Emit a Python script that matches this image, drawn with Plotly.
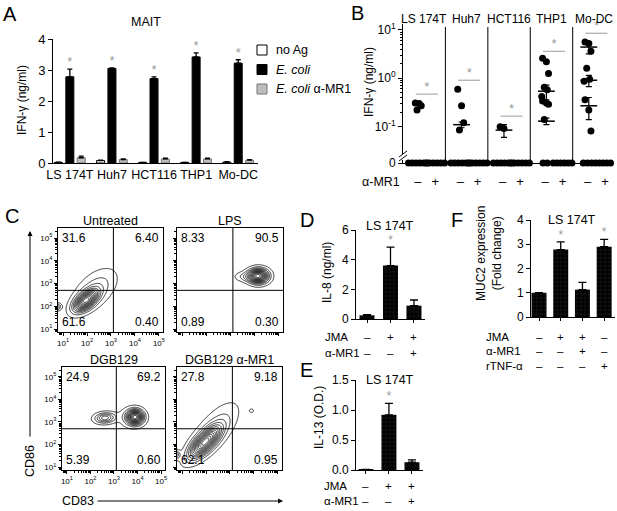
import numpy as np
import plotly.graph_objects as go

W, H = 617, 511
FONT = "Liberation Sans, Arial, Helvetica, sans-serif"
STAR = "#9a9a9a"

### data ###
cells = ["LS 174T", "Huh7", "HCT116", "THP1", "Mo-DC"]

# A - MAIT IFN-g (ng/ml)
a_no_ag = [0.02, 0.08, 0.02, 0.02, 0.03]
a_no_ag_err = [0.01, 0.01, 0.0, 0.0, 0.01]
a_ecoli = [2.78, 3.05, 2.72, 3.42, 3.22]
a_ecoli_err = [0.25, 0.02, 0.06, 0.13, 0.11]
a_ecoli_mr1 = [0.17, 0.11, 0.13, 0.13, 0.09]
a_ecoli_mr1_err = [0.05, 0.02, 0.03, 0.03, 0.02]

# B - IFN-g (ng/ml) without antibody, zeros drawn on the broken axis
b_ls174t = [0.31, 0.30, 0.27, 0.22]
b_huh7 = [0.59, 0.27, 0.12, 0.085]
b_hct116 = [0.10, 0.092]
b_thp1 = [2.6, 2.2, 1.25, 0.65, 0.58, 0.42, 0.34, 0.31, 0.29, 0.14]
b_modc = [5.6, 5.2, 3.6, 1.6, 0.95, 0.87, 0.36, 0.22, 0.081]
b_zeros_minus = [6, 6, 6, 2, 3]
b_zeros_plus = [6, 6, 6, 6, 6]
b_mean_cell = [1, 2, 3, 3, 4, 4, 4]
b_mean = [0.11, 0.085, 0.54, 0.13, 4.4, 0.91, 0.27]
b_sem = [0.015, 0.025, 0.18, 0.02, 1.2, 0.24, 0.13]
b_sig = [0.47, 0.91, 0.165, 3.6, 8.5]

# C - CD83 / CD86 flow plots
c_titles = ["Untreated", "LPS", "DGB129", "DGB129 α-MR1"]
c_quadrants = [  # UL, UR, LL, LR
    ["31.6", "6.40", "61.6", "0.40"],
    ["8.33", "90.5", "0.89", "0.30"],
    ["24.9", "69.2", "5.39", "0.60"],
    ["27.8", "9.18", "62.1", "0.95"],
]
# populations: log10 CD83 centre, log10 CD86 centre, sd x, sd y, corr, weight
c_untreated = [(1.95, 2.25, 0.32, 0.30, 0.55, 1.0),
               (2.35, 2.75, 0.55, 0.55, 0.5, 0.2),
               (0.72, 1.98, 0.12, 0.10, 0.0, 0.35)]
c_lps = [(4.15, 3.33, 0.26, 0.20, 0.0, 1.0),
         (3.65, 3.30, 0.30, 0.14, 0.0, 0.15)]
c_dgb = [(2.62, 3.18, 0.28, 0.15, 0.1, 0.45),
         (3.90, 3.22, 0.22, 0.20, 0.0, 1.0),
         (3.75, 3.20, 0.35, 0.28, 0.0, 0.15)]
c_dgb_mr1 = [(1.95, 2.10, 0.42, 0.45, 0.7, 1.0),
             (2.45, 2.80, 0.60, 0.70, 0.65, 0.15),
             (3.90, 3.50, 0.07, 0.06, 0.0, 0.09),
             (0.72, 1.55, 0.12, 0.12, 0.0, 0.35)]
c_gate_x, c_gate_y = 3.1, 2.7

# D - IL-8 (ng/ml)
d_vals = [0.25, 3.6, 0.9]
d_err = [0.05, 1.25, 0.38]
d_jma = ["–", "+", "+"]
d_mr1 = ["–", "–", "+"]
# E - IL-13 (O.D.)
e_vals = [0.01, 0.92, 0.13]
e_err = [0.0, 0.19, 0.04]
e_jma = ["–", "+", "+"]
e_mr1 = ["–", "–", "+"]
# F - MUC2 (fold change)
f_vals = [1.0, 2.78, 1.13, 2.9]
f_err = [0.0, 0.32, 0.30, 0.30]
f_jma = ["–", "+", "+", "–"]
f_mr1 = ["–", "–", "+", "–"]
f_tnf = ["–", "–", "–", "+"]


def xd(x0, x1):
    return [x0 / W, x1 / W]


def yd(top, bot):
    return [1 - bot / H, 1 - top / H]


def px(x):
    return x / W


def py(y):
    return 1 - y / H


def label(txt, x, y, size=12, xref="paper", xanchor="center", yanchor="middle", angle=0, color="black"):
    return dict(x=x, y=y, xref=xref, yref="paper", text=txt, showarrow=False, textangle=angle,
                xanchor=xanchor, yanchor=yanchor, font=dict(size=size, color=color))


base = dict(showline=True, linecolor="black", linewidth=1, zeroline=False, showgrid=False,
            ticks="outside", ticklen=4, tickcolor="black", tickwidth=1, automargin=False,
            tickfont=dict(size=12, color="black"))

fig = go.Figure()
ann = []
shapes = []

### A ###
idx = list(range(5))
a_series = [
    ("no Ag", a_no_ag, a_no_ag_err, "white", "black", -0.365),
    ("<i>E. coli</i>", a_ecoli, a_ecoli_err, "black", "black", -0.095),
    ("<i>E. coli</i> α-MR1", a_ecoli_mr1, a_ecoli_mr1_err, "#bdbdbd", "#777", 0.175),
]
for k, (name, vals, errs, fill, edge, off) in enumerate(a_series):
    fig.add_trace(go.Bar(x=idx, y=vals, width=0.19, offset=off, name=name, showlegend=False,
                         marker=dict(color=fill, line=dict(color=edge, width=1)),
                         error_y=dict(type="data", array=errs, arrayminus=[0] * 5,
                                      color="black", thickness=1.3, width=2.5),
                         xaxis="x", yaxis="y"))
    # hand-drawn legend entry
    yc = 50 + 19.5 * k
    shapes.append(dict(type="rect", xref="paper", yref="paper", x0=px(257), x1=px(267),
                       y0=py(yc + 5), y1=py(yc - 5), fillcolor=fill, line=dict(color=edge, width=1)))
    ann.append(label(name, px(274), py(yc), size=12.5, xanchor="left"))
fig.add_trace(go.Scatter(x=idx, y=[m + e for m, e in zip(a_ecoli, a_ecoli_err)], mode="text",
                         text=["*"] * 5, textposition="top center", showlegend=False,
                         textfont=dict(size=13, color=STAR), cliponaxis=False,
                         xaxis="x", yaxis="y"))

### B ###
MINUS, PLUS = -0.15, 0.26
B_ZERO = 10 ** -1.75
JIT = [-0.06, 0.03, 0.08, -0.02, 0.05, -0.08]
b_minus = [b_ls174t, b_huh7, b_hct116, b_thp1, b_modc]
bx, by = [], []
for i, vals in enumerate(b_minus):
    for k, v in enumerate(vals):
        bx.append(i + MINUS + JIT[k % len(JIT)])
        by.append(v)
zx, zy = [], []
for i in range(5):
    for grp, n in ((MINUS, b_zeros_minus[i]), (PLUS, b_zeros_plus[i])):
        half = min(0.22, 0.05 * (n - 1))
        for dx in np.linspace(-half, half, n):
            zx.append(i + grp + dx)
            zy.append(B_ZERO)
fig.add_trace(go.Scatter(x=bx, y=by, mode="markers", marker=dict(color="black", size=7),
                         showlegend=False, xaxis="x2", yaxis="y2"))
fig.add_trace(go.Scatter(x=zx, y=zy, mode="markers", marker=dict(color="black", size=7),
                         showlegend=False, cliponaxis=False, xaxis="x2", yaxis="y2"))
fig.add_trace(go.Scatter(x=[c + MINUS + 0.03 for c in b_mean_cell], y=b_mean, mode="markers",
                         marker=dict(symbol="line-ew-open", size=12, color="black",
                                     line=dict(color="black", width=1.5)),
                         error_y=dict(type="data", array=b_sem, color="black", thickness=1.2, width=3),
                         showlegend=False, xaxis="x2", yaxis="y2"))
sx, sy = [], []
for i, v in enumerate(b_sig):
    sx += [i - 0.2, i + 0.32, None]
    sy += [v, v, None]
fig.add_trace(go.Scatter(x=sx, y=sy, mode="lines", line=dict(color=STAR, width=1),
                         showlegend=False, xaxis="x2", yaxis="y2"))
fig.add_trace(go.Scatter(x=[i + 0.06 for i in range(5)], y=b_sig, mode="text", text=["*"] * 5,
                         textposition="top center", textfont=dict(size=13, color=STAR),
                         cliponaxis=False, showlegend=False, xaxis="x2", yaxis="y2"))
for i in range(1, 5):
    shapes.append(dict(type="line", xref="x2", yref="paper", x0=i - 0.5, x1=i - 0.5,
                       y0=py(163), y1=py(27), line=dict(color="black", width=1)))
for i, c in enumerate(cells):
    ann.append(label(c, i, py(19), size=12, xref="x2"))
# axis break
shapes.append(dict(type="rect", xref="paper", yref="paper", x0=px(400), x1=px(406),
                   y0=py(160), y1=py(154), fillcolor="white", line=dict(width=0)))
for y0 in (161, 157):
    shapes.append(dict(type="line", xref="paper", yref="paper", x0=px(399), x1=px(407),
                       y0=py(y0), y1=py(y0 - 6), line=dict(color="black", width=1)))

### C ###
c_boxes = [(58, 163, 228, 332), (177, 283, 228, 332), (62, 165, 367, 470), (177, 282, 367, 470)]
c_pops = [c_untreated, c_lps, c_dgb, c_dgb_mr1]
XR, YR = [0.79, 5.17], [0.87, 5.44]
gx = np.linspace(XR[0], XR[1], 220)
gy = np.linspace(YR[0], YR[1], 220)
GX, GY = np.meshgrid(gx, gy)
minor = [np.log10(k * 10.0 ** n) for n in range(0, 6) for k in range(2, 10)]
minor = [m for m in minor if 0.79 < m < 5.44]
for j, (box, pops) in enumerate(zip(c_boxes, c_pops)):
    Z = np.zeros_like(GX)
    for cx, cy, sdx, sdy, rho, w in pops:
        ux = (GX - cx) / sdx
        uy = (GY - cy) / sdy
        Z += w * np.exp(-0.5 * (ux * ux - 2 * rho * ux * uy + uy * uy) / (1 - rho * rho))
    Z = Z / Z.max()
    xa, ya = "x%d" % (j + 3), "y%d" % (j + 3)
    fig.add_trace(go.Contour(x=gx, y=gy, z=Z, showscale=False,
                             colorscale=[[0, "black"], [1, "black"]],
                             contours=dict(start=0.045, end=0.97, size=0.075, coloring="lines"),
                             line=dict(width=0.8), hoverinfo="skip", xaxis=xa, yaxis=ya))
    l, r, t, b = box
    shapes.append(dict(type="line", xref=xa, yref=ya, x0=c_gate_x, x1=c_gate_x, y0=YR[0], y1=YR[1],
                       line=dict(color="black", width=1)))
    shapes.append(dict(type="line", xref=xa, yref=ya, x0=XR[0], x1=XR[1], y0=c_gate_y, y1=c_gate_y,
                       line=dict(color="black", width=1)))
    q = c_quadrants[j]
    ann.append(label(q[0], px(l + 2), py(t + 1), xanchor="left", yanchor="top"))
    ann.append(label(q[1], px(r - 2), py(t + 1), xanchor="right", yanchor="top"))
    ann.append(label(q[2], px(l + 2), py(b - 1), xanchor="left", yanchor="bottom"))
    ann.append(label(q[3], px(r - 2), py(b - 1), xanchor="right", yanchor="bottom"))
    ann.append(label(c_titles[j], px((l + r) / 2), py(t - 7), size=12.5))
    show = j in (0, 2)
    cax = dict(base, mirror=True, ticklen=3, tickfont=dict(size=8, color="black"),
               showticklabels=show, tickvals=[1, 2, 3, 4, 5],
               ticktext=["10<sup>%d</sup>" % k for k in range(1, 6)],
               minor=dict(tickvals=minor, ticks="outside", ticklen=2, tickcolor="black"))
    fig.update_layout(**{
        "xaxis%d" % (j + 3): dict(cax, domain=xd(l, r), range=XR, anchor=ya),
        "yaxis%d" % (j + 3): dict(cax, domain=yd(t, b), range=YR, anchor=xa),
    })

ann.append(dict(x=px(30), y=py(231), xref="paper", yref="paper", ax=0, ay=207, text="",
                showarrow=True, arrowhead=2, arrowsize=1, arrowwidth=1, arrowcolor="black"))
ann.append(dict(x=px(283), y=py(501), xref="paper", yref="paper", ax=-187, ay=0, text="",
                showarrow=True, arrowhead=2, arrowsize=1, arrowwidth=1, arrowcolor="black"))
ann.append(label("CD86", px(30), py(461), size=12.5, angle=-90))
ann.append(label("CD83", px(78), py(501), size=12.5))

### D, E, F ###
pattern = dict(shape="+", fgcolor="#4a4a4a", bgcolor="black", size=4, solidity=0.2)
bar_panels = [
    ("x7", "y7", d_vals, d_err, 0.64, [1]),
    ("x8", "y8", e_vals, e_err, 0.65, [1]),
    ("x9", "y9", f_vals, f_err, 0.69, [1, 3]),
]
for xa, ya, vals, errs, wd, sig in bar_panels:
    n = len(vals)
    fig.add_trace(go.Bar(x=list(range(n)), y=vals, width=wd, showlegend=False,
                         marker=dict(color="black", line=dict(width=0), pattern=pattern),
                         error_y=dict(type="data", array=errs, arrayminus=[0] * n, color="black",
                                      thickness=1.3, width=4),
                         xaxis=xa, yaxis=ya))
    fig.add_trace(go.Scatter(x=sig, y=[vals[k] + errs[k] for k in sig], mode="text",
                             text=["*"] * len(sig), textposition="top center",
                             textfont=dict(size=12, color=STAR), cliponaxis=False,
                             showlegend=False, xaxis=xa, yaxis=ya))

rows = [
    ("x7", 323, [("JMA", 337, d_jma), ("α-MR1", 353, d_mr1)]),
    ("x8", 322, [("JMA", 486, e_jma), ("α-MR1", 501, e_mr1)]),
    ("x9", 484, [("JMA", 337, f_jma), ("α-MR1", 351, f_mr1), ("rTNF-α", 366, f_tnf)]),
]
for xa, lx, rr in rows:
    for txt, y, signs in rr:
        ann.append(label(txt, px(lx), py(y), size=11.5, xanchor="left"))
        for k, s in enumerate(signs):
            ann.append(label(s, k, py(y), size=11.5, xref=xa))

# titles, axis labels, panel letters
for txt, x, y, ang, size in [
    ("MAIT", 146, 22, 0, 12.5), ("LS 174T", 390, 226, 0, 12.5), ("LS 174T", 390, 380, 0, 12.5),
    ("LS 174T", 572, 220, 0, 12.5),
    ("IFN-γ (ng/ml)", 22, 100, -90, 12), ("IFN-γ (ng/ml)", 369, 82, -90, 12),
    ("IL-8 (ng/ml)", 327, 273, -90, 12), ("IL-13 (O.D.)", 319, 418, -90, 12),
    ("MUC2 expression<br>(Fold change)", 489, 254, -90, 12), ("α-MR1", 381, 182, 0, 12.5),
    ("A", 10, 14, 0, 20), ("B", 357, 13, 0, 20), ("C", 12, 216, 0, 20),
    ("D", 307, 220, 0, 20), ("E", 306, 370, 0, 20), ("F", 457, 220, 0, 20),
]:
    ann.append(label(txt, px(x), py(y), size=size, angle=ang))

small_x = dict(base, ticklen=3, showticklabels=False)
fig.update_layout(
    width=W, height=H, autosize=False,
    margin=dict(l=0, r=0, t=0, b=0, pad=0, autoexpand=False),
    paper_bgcolor="white", plot_bgcolor="white",
    font=dict(family=FONT, color="black", size=12),
    barmode="overlay", showlegend=False,
    xaxis=dict(base, domain=xd(53, 258), anchor="y", range=[-0.4, 4.47], tickvals=idx,
               ticktext=cells, ticks="", tickfont=dict(size=12.5, color="black")),
    yaxis=dict(base, domain=yd(39, 163), anchor="x", range=[0, 4], tickvals=[0, 1, 2, 3, 4],
               tickfont=dict(size=13, color="black")),
    xaxis2=dict(base, domain=xd(403, 613), anchor="y2", range=[-0.5, 4.45], ticks="",
                tickvals=[i + g for i in range(5) for g in (MINUS, PLUS)],
                ticktext=["–", "+"] * 5, ticklabelstandoff=6, tickfont=dict(size=13, color="black")),
    yaxis2=dict(base, domain=yd(24, 163), anchor="x2", type="log", range=[-1.75, 1.12],
                tickvals=[B_ZERO, 0.1, 1, 10],
                ticktext=["0", "10<sup>-1</sup>", "10<sup>0</sup>", "10<sup>1</sup>"],
                minor=dict(tickvals=[k * 10.0 ** n for n in (-1, 0) for k in range(2, 10)],
                           ticks="outside", ticklen=2, tickcolor="black")),
    xaxis7=dict(small_x, domain=xd(356, 425), anchor="y7", range=[-0.47, 2.47], tickvals=[0, 1, 2]),
    yaxis7=dict(base, domain=yd(230, 319), anchor="x7", range=[0, 6], tickvals=[0, 2, 4, 6]),
    xaxis8=dict(small_x, domain=xd(356, 423), anchor="y8", range=[-0.43, 2.48], tickvals=[0, 1, 2]),
    yaxis8=dict(base, domain=yd(380, 470), anchor="x8", range=[0, 1.5],
                tickvals=[0, 0.5, 1.0, 1.5], tickformat=".1f"),
    xaxis9=dict(small_x, domain=xd(531, 615), anchor="y9", range=[-0.37, 3.5], tickvals=[0, 1, 2, 3]),
    yaxis9=dict(base, domain=yd(220, 317), anchor="x9", range=[0, 4], tickvals=[0, 1, 2, 3, 4]),
    annotations=ann, shapes=shapes,
)

# page body has a default 8px margin; drop it so the figure sits at the window origin
fig.write_html("out.html", config={"displayModeBar": False},
               post_script="document.body.style.margin='0';")
